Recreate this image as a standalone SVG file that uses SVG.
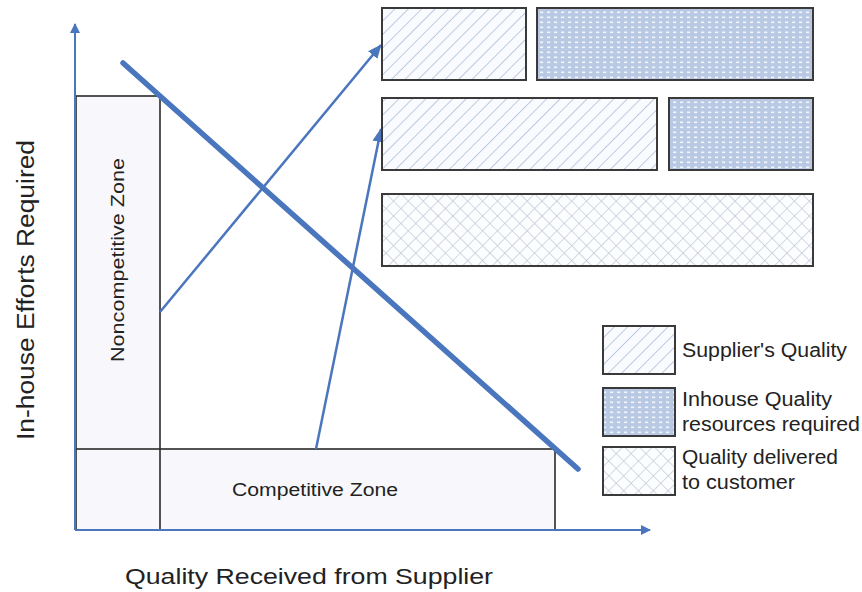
<svg xmlns="http://www.w3.org/2000/svg" width="862" height="592" viewBox="0 0 862 592">
<style>
.box{stroke:#3a3a3a;stroke-width:2}
.zone{fill:#f8f8fc;stroke:#2a2a2a;stroke-width:1.6}
.conn{stroke:#4a76bd;fill:none}
.lbl{font-family:"Liberation Sans",Arial,sans-serif;fill:#222}
.leg{font-size:20px}
</style>
<defs>
<pattern id="diag" width="9.5" height="9.5" patternUnits="userSpaceOnUse" patternTransform="rotate(45)">
<rect width="9.5" height="9.5" fill="#fafbfe"/>
<line x1="0" y1="0" x2="0" y2="9.5" stroke="#b9c5dd" stroke-width="1.8"/>
</pattern>
<pattern id="dots" width="7" height="5" patternUnits="userSpaceOnUse">
<rect width="7" height="5" fill="#b9c9e4"/>
<rect x="1" y="1.5" width="3.2" height="1.6" fill="#f2f6fc"/>
</pattern>
<pattern id="cross" width="10.5" height="10.5" patternUnits="userSpaceOnUse" patternTransform="rotate(45)">
<rect width="10.5" height="10.5" fill="#fcfdfe"/>
<line x1="0" y1="0" x2="10.5" y2="0" stroke="#bdc4d2" stroke-width="1.3"/>
<line x1="0" y1="0" x2="0" y2="10.5" stroke="#bdc4d2" stroke-width="1.3"/>
</pattern>
<marker id="ah" markerWidth="10" markerHeight="10" refX="9" refY="5" orient="auto" markerUnits="userSpaceOnUse">
<path d="M0,0 L10,5 L0,10 Z" fill="#4a76bd"/>
</marker>
<marker id="ah2" markerWidth="14" markerHeight="14" refX="13" refY="7" orient="auto" markerUnits="userSpaceOnUse">
<path d="M0,1 L14,7 L0,13 Z" fill="#4a76bd"/>
</marker>
</defs>
<rect width="862" height="592" fill="#fff"/>

<g id="noncompetitive-zone">
<rect class="zone" x="76" y="96" width="84" height="434"/>
<text class="lbl" font-size="17.5" transform="translate(124,260) rotate(-90)" text-anchor="middle" textLength="204" lengthAdjust="spacingAndGlyphs">Noncompetitive Zone</text>
</g>
<g id="competitive-zone">
<rect class="zone" x="76" y="449" width="479" height="81"/>
<line x1="160" y1="449" x2="160" y2="530" stroke="#2a2a2a" stroke-width="1.6"/>
<text class="lbl" font-size="17.5" x="315" y="496" text-anchor="middle" textLength="166" lengthAdjust="spacingAndGlyphs">Competitive Zone</text>
</g>

<g id="connectors">
<line class="conn" x1="75" y1="530" x2="75" y2="24" stroke-width="2" marker-end="url(#ah)"/>
<line class="conn" x1="75" y1="530" x2="650" y2="530" stroke-width="2" marker-end="url(#ah)"/>
<line class="conn" x1="123" y1="63" x2="578" y2="469" stroke-width="5.5" stroke-linecap="round"/>
<line class="conn" x1="160" y1="312" x2="381" y2="45" stroke-width="2.5" marker-end="url(#ah2)"/>
<line class="conn" x1="316" y1="449" x2="381" y2="129" stroke-width="2.5" marker-end="url(#ah2)"/>
</g>

<g id="bar1-supplier"><rect class="box" x="382" y="8" width="144" height="72" fill="url(#diag)"/></g>
<g id="bar1-inhouse"><rect class="box" x="537" y="8" width="276" height="72" fill="url(#dots)"/></g>
<g id="bar2-supplier"><rect class="box" x="382" y="98" width="275" height="72" fill="url(#diag)"/></g>
<g id="bar2-inhouse"><rect class="box" x="669" y="98" width="144" height="72" fill="url(#dots)"/></g>
<g id="bar3-delivered"><rect class="box" x="382" y="194" width="431" height="72" fill="url(#cross)"/></g>

<g id="legend-supplier">
<rect class="box" x="603" y="326" width="72" height="48" fill="url(#diag)"/>
<text class="lbl leg" x="682" y="357" textLength="165" lengthAdjust="spacingAndGlyphs">Supplier's Quality</text>
</g>
<g id="legend-inhouse">
<rect class="box" x="603" y="388" width="72" height="48" fill="url(#dots)"/>
<text class="lbl leg" x="682" y="406" textLength="150" lengthAdjust="spacingAndGlyphs">Inhouse Quality</text>
<text class="lbl leg" x="682" y="431" textLength="178" lengthAdjust="spacingAndGlyphs">resources required</text>
</g>
<g id="legend-delivered">
<rect class="box" x="603" y="447" width="72" height="48" fill="url(#cross)"/>
<text class="lbl leg" x="682" y="464" textLength="156" lengthAdjust="spacingAndGlyphs">Quality delivered</text>
<text class="lbl leg" x="682" y="489" textLength="113" lengthAdjust="spacingAndGlyphs">to customer</text>
</g>

<g id="axis-labels">
<text class="lbl" font-size="23" transform="translate(34,290) rotate(-90)" text-anchor="middle" textLength="300" lengthAdjust="spacingAndGlyphs">In-house Efforts Required</text>
<text class="lbl" font-size="22" x="309" y="584" text-anchor="middle" textLength="368" lengthAdjust="spacingAndGlyphs">Quality Received from Supplier</text>
</g>
</svg>
